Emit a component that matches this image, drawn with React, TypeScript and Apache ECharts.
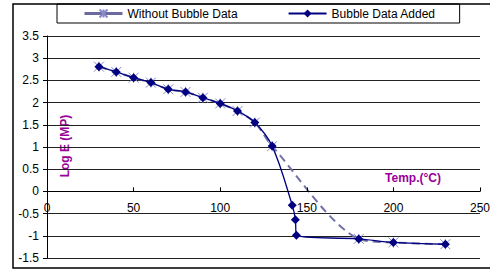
import React, { useEffect, useRef } from "react";
import * as echarts from "echarts";

const temps = [30, 40, 50, 60, 70, 80, 90, 100, 110, 120, 130, 141.6, 143.4, 144, 180, 200, 230];
const bubbleAdded = [2.81, 2.69, 2.56, 2.45, 2.3, 2.24, 2.11, 1.98, 1.81, 1.55, 1.02, -0.31, -0.64, -0.99, -1.07, -1.15, -1.19];
const tempsNoBubble = [30, 40, 50, 60, 70, 80, 90, 100, 110, 120, 130, 180, 200, 230];
const withoutBubble = [2.81, 2.69, 2.56, 2.45, 2.3, 2.24, 2.11, 1.98, 1.81, 1.55, 1.02, -1.07, -1.15, -1.19];
const seriesNames = ["Without Bubble Data", "Bubble Data Added"];
const xTitle = "Temp.(°C)";
const yTitle = "Log E (MP)";
const yMin = -1.5;
const yMax = 3.5;

const STAR = "path://M0,0L10,10M10,0L0,10M5,0L5,10";

export default function App() {
  const ref = useRef<HTMLDivElement>(null);
  useEffect(() => {
    const chart = echarts.init(ref.current!, null, { renderer: "svg" });
    const font = "'Liberation Sans', Arial, sans-serif";
    chart.setOption({
      animation: false,
      backgroundColor: "#ffffff",
      textStyle: { fontFamily: font },
      grid: { left: 47, right: 10, top: 36, bottom: 12, containLabel: false, outerBoundsMode: "none" },
      legend: {
        left: 57,
        top: 4,
        padding: [3, 24, 3, 26],
        itemGap: 50,
        itemWidth: 38,
        itemHeight: 10,
        borderColor: "#000",
        borderWidth: 1,
        backgroundColor: "#fff",
        textStyle: { fontFamily: font, fontSize: 12, color: "#000" },
        data: [
          { name: seriesNames[0], lineStyle: { type: "solid", width: 3, color: "#6a6aa0" } },
          { name: seriesNames[1] },
        ],
      },
      xAxis: {
        type: "value",
        min: 0,
        max: 250,
        interval: 50,
        position: "bottom",
        axisLine: { onZero: false, lineStyle: { color: "#000", width: 1 } },
        axisTick: { inside: true, length: 4, lineStyle: { color: "#000" } },
        axisLabel: { color: "#000", fontSize: 12, fontFamily: font, margin: 11 },
        splitLine: { show: false },
        z: 5,
      },
      yAxis: {
        type: "value",
        min: yMin,
        max: yMax,
        interval: 0.5,
        axisLine: { show: true, onZero: false, lineStyle: { color: "#000", width: 1 } },
        axisTick: { show: true, length: 4, lineStyle: { color: "#000" } },
        axisLabel: { color: "#000", fontSize: 12, fontFamily: font, margin: 8 },
        splitLine: { show: true, lineStyle: { color: "#222", width: 1 } },
      },
      graphic: [
        {
          type: "rect",
          shape: { x: 13, y: 4, width: 500, height: 264 },
          style: { fill: "none", stroke: "#000", lineWidth: 1.5 },
          z: 100,
          silent: true,
        },
        {
          type: "text",
          x: 65,
          y: 146,
          rotation: Math.PI / 2,
          style: {
            text: yTitle,
            fill: "#990099",
            font: "bold 12px 'Liberation Sans', Arial, sans-serif",
            align: "center",
            verticalAlign: "middle",
          },
        },
        {
          type: "text",
          x: 413,
          y: 178,
          style: {
            text: xTitle,
            fill: "#990099",
            font: "bold 12px 'Liberation Sans', Arial, sans-serif",
            align: "center",
            verticalAlign: "middle",
          },
        },
      ],
      series: [
        {
          name: seriesNames[0],
          type: "line",
          smooth: 0.3,
          data: tempsNoBubble.map((t, i) => [t, withoutBubble[i]]),
          symbol: STAR,
          symbolSize: 10,
          lineStyle: { color: "#7272a6", width: 2, type: [8, 5] },
          itemStyle: { color: "none", borderColor: "#8a8ac8", borderWidth: 1 },
          z: 2,
        },
        {
          name: seriesNames[1],
          type: "line",
          smooth: 0.35,
          data: temps.map((t, i) => [t, bubbleAdded[i]]),
          symbol: "diamond",
          symbolSize: 9,
          lineStyle: { color: "#000080", width: 1.3 },
          itemStyle: { color: "#000080", borderColor: "#000080", borderWidth: 0 },
          z: 3,
        },
      ],
    });
    // place the x axis on y = 0 using the library's own scale
    const zeroPx = chart.convertToPixel({ yAxisIndex: 0 }, 0) as number;
    const bottomPx = chart.convertToPixel({ yAxisIndex: 0 }, yMin) as number;
    chart.setOption({ xAxis: { offset: -(bottomPx - zeroPx) } });
    return () => chart.dispose();
  }, []);
  return <div ref={ref} style={{ width: 490, height: 270, position: "absolute", left: 0, top: 0 }} />;
}
